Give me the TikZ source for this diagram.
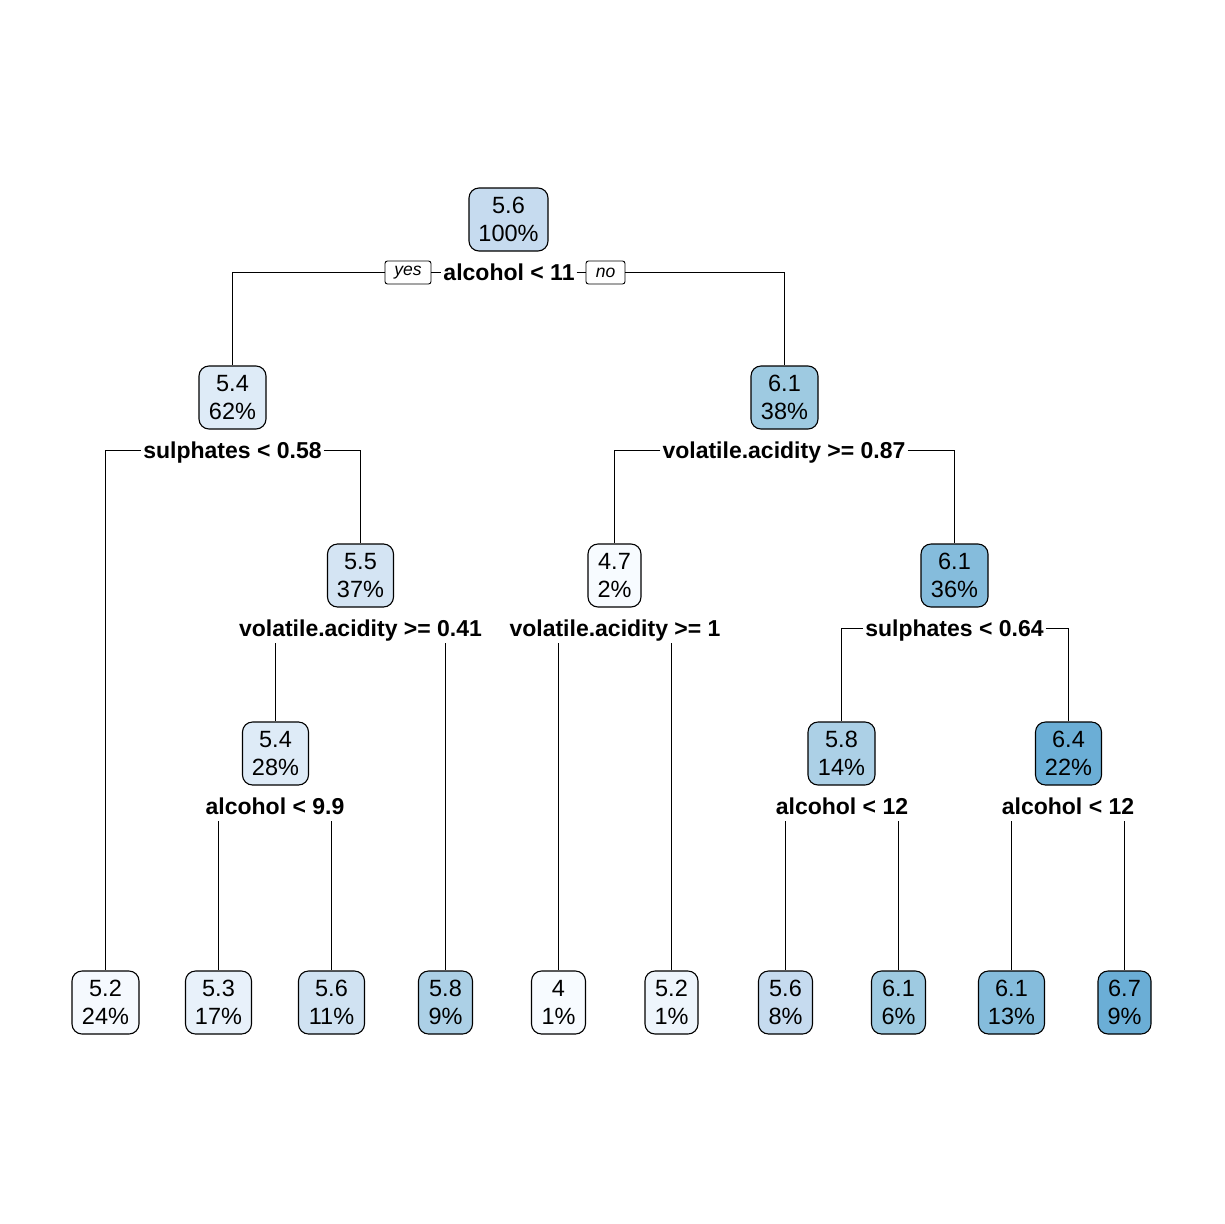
\documentclass[tikz,border=0pt]{standalone}
\usepackage{fontspec}
\setmainfont{Liberation Sans}
\definecolor{c1}{HTML}{C6DBEF}
\definecolor{c2}{HTML}{DEEBF7}
\definecolor{c3}{HTML}{9ECAE1}
\definecolor{c4}{HTML}{D4E4F3}
\definecolor{c5}{HTML}{F7FBFF}
\definecolor{c6}{HTML}{85BCDC}
\definecolor{c8}{HTML}{ACD0E6}
\definecolor{c9}{HTML}{6BAED6}
\definecolor{l1}{HTML}{F5F9FE}
\definecolor{l2}{HTML}{E8F1FA}
\definecolor{l3}{HTML}{D0E2F2}
\definecolor{l6}{HTML}{EEF5FC}
\tikzset{
  tbox/.style={draw=black, line width=1.1pt, rounded corners=10pt, inner sep=0pt,
    minimum height=63pt, align=center,
    font=\fontsize{23.5pt}{28pt}\selectfont},
  split/.style={inner xsep=2pt, inner ysep=6.5pt, text height=16.5pt, text depth=0pt,
    font=\fontsize{23pt}{28pt}\selectfont\bfseries},
  yn/.style={draw=black, line width=0.9pt, rounded corners=2.5pt, inner sep=0pt,
    minimum width=46pt, minimum height=23pt, font=\fontsize{17.5pt}{20pt}\selectfont\itshape},
  conn/.style={line width=1pt}
}
\begin{document}
\begin{tikzpicture}[x=1pt,y=-1pt]
\useasboundingbox[fill=white] (0,0) rectangle (1224,1224);
% internal nodes
\node[tbox, fill=c1, minimum width=79pt] (n1) at (508.5,219.5) {5.6\\100\%};
\node[tbox, fill=c2, minimum width=67pt] (n2) at (232.5,397.5) {5.4\\62\%};
\node[tbox, fill=c3, minimum width=67pt] (n3) at (784.5,397.5) {6.1\\38\%};
\node[tbox, fill=c4, minimum width=66pt] (n4) at (360.5,575.5) {5.5\\37\%};
\node[tbox, fill=c5, minimum width=53pt] (n5) at (614.5,575.5) {4.7\\2\%};
\node[tbox, fill=c6, minimum width=67pt] (n6) at (954.5,575.5) {6.1\\36\%};
\node[tbox, fill=c2, minimum width=66pt] (n7) at (275.5,753.5) {5.4\\28\%};
\node[tbox, fill=c8, minimum width=67pt] (n8) at (841.5,753.5) {5.8\\14\%};
\node[tbox, fill=c9, minimum width=66pt] (n9) at (1068.5,753.5) {6.4\\22\%};
% leaves
\node[tbox, fill=l1, minimum width=67pt] (L1) at (105.5,1002.5) {5.2\\24\%};
\node[tbox, fill=l2, minimum width=66pt] (L2) at (218.5,1002.5) {5.3\\17\%};
\node[tbox, fill=l3, minimum width=66pt] (L3) at (331.5,1002.5) {5.6\\11\%};
\node[tbox, fill=c8, minimum width=54pt] (L4) at (445.5,1002.5) {5.8\\9\%};
\node[tbox, fill=c5, minimum width=54pt] (L5) at (558.5,1002.5) {4\\1\%};
\node[tbox, fill=l6, minimum width=53pt] (L6) at (671.5,1002.5) {5.2\\1\%};
\node[tbox, fill=c1, minimum width=54pt] (L7) at (785.5,1002.5) {5.6\\8\%};
\node[tbox, fill=c3, minimum width=54pt] (L8) at (898.5,1002.5) {6.1\\6\%};
\node[tbox, fill=c6, minimum width=66pt] (L9) at (1011.5,1002.5) {6.1\\13\%};
\node[tbox, fill=c9, minimum width=53pt] (L10) at (1124.5,1002.5) {6.7\\9\%};
% split labels
\node[split] (s1) at (509,272.5) {alcohol < 11};
\node[yn] (yes) at (408,272.5) {yes};
\node[yn, minimum width=39pt] (no) at (605.5,272.5) {no};
\node[split] (s2) at (232.5,450.5) {sulphates < 0.58};
\node[split] (s3) at (784,450.5) {volatile.acidity >= 0.87};
\node[split] (s4) at (360.5,628.5) {volatile.acidity >= 0.41};
\node[split] (s5) at (615,628.5) {volatile.acidity >= 1};
\node[split] (s6) at (954.5,628.5) {sulphates < 0.64};
\node[split] (s7) at (275,806.5) {alcohol < 9.9};
\node[split] (s8) at (842,806.5) {alcohol < 12};
\node[split] (s9) at (1068,806.5) {alcohol < 12};
% connectors
\draw[conn] (yes.west) -| (n2.north);
\draw[conn] (yes.east) -- (s1.west);
\draw[conn] (s1.east) -- (no.west);
\draw[conn] (no.east) -| (n3.north);
\draw[conn] (s2.west) -| (L1.north);
\draw[conn] (s2.east) -| (n4.north);
\draw[conn] (s3.west) -| (n5.north);
\draw[conn] (s3.east) -| (n6.north);
\draw[conn] (n7.north |- s4.south) -- (n7.north);
\draw[conn] (L4.north |- s4.south) -- (L4.north);
\draw[conn] (L5.north |- s5.south) -- (L5.north);
\draw[conn] (L6.north |- s5.south) -- (L6.north);
\draw[conn] (s6.west) -| (n8.north);
\draw[conn] (s6.east) -| (n9.north);
\draw[conn] (L2.north |- s7.south) -- (L2.north);
\draw[conn] (L3.north |- s7.south) -- (L3.north);
\draw[conn] (L7.north |- s8.south) -- (L7.north);
\draw[conn] (L8.north |- s8.south) -- (L8.north);
\draw[conn] (L9.north |- s9.south) -- (L9.north);
\draw[conn] (L10.north |- s9.south) -- (L10.north);
\end{tikzpicture}
\end{document}
